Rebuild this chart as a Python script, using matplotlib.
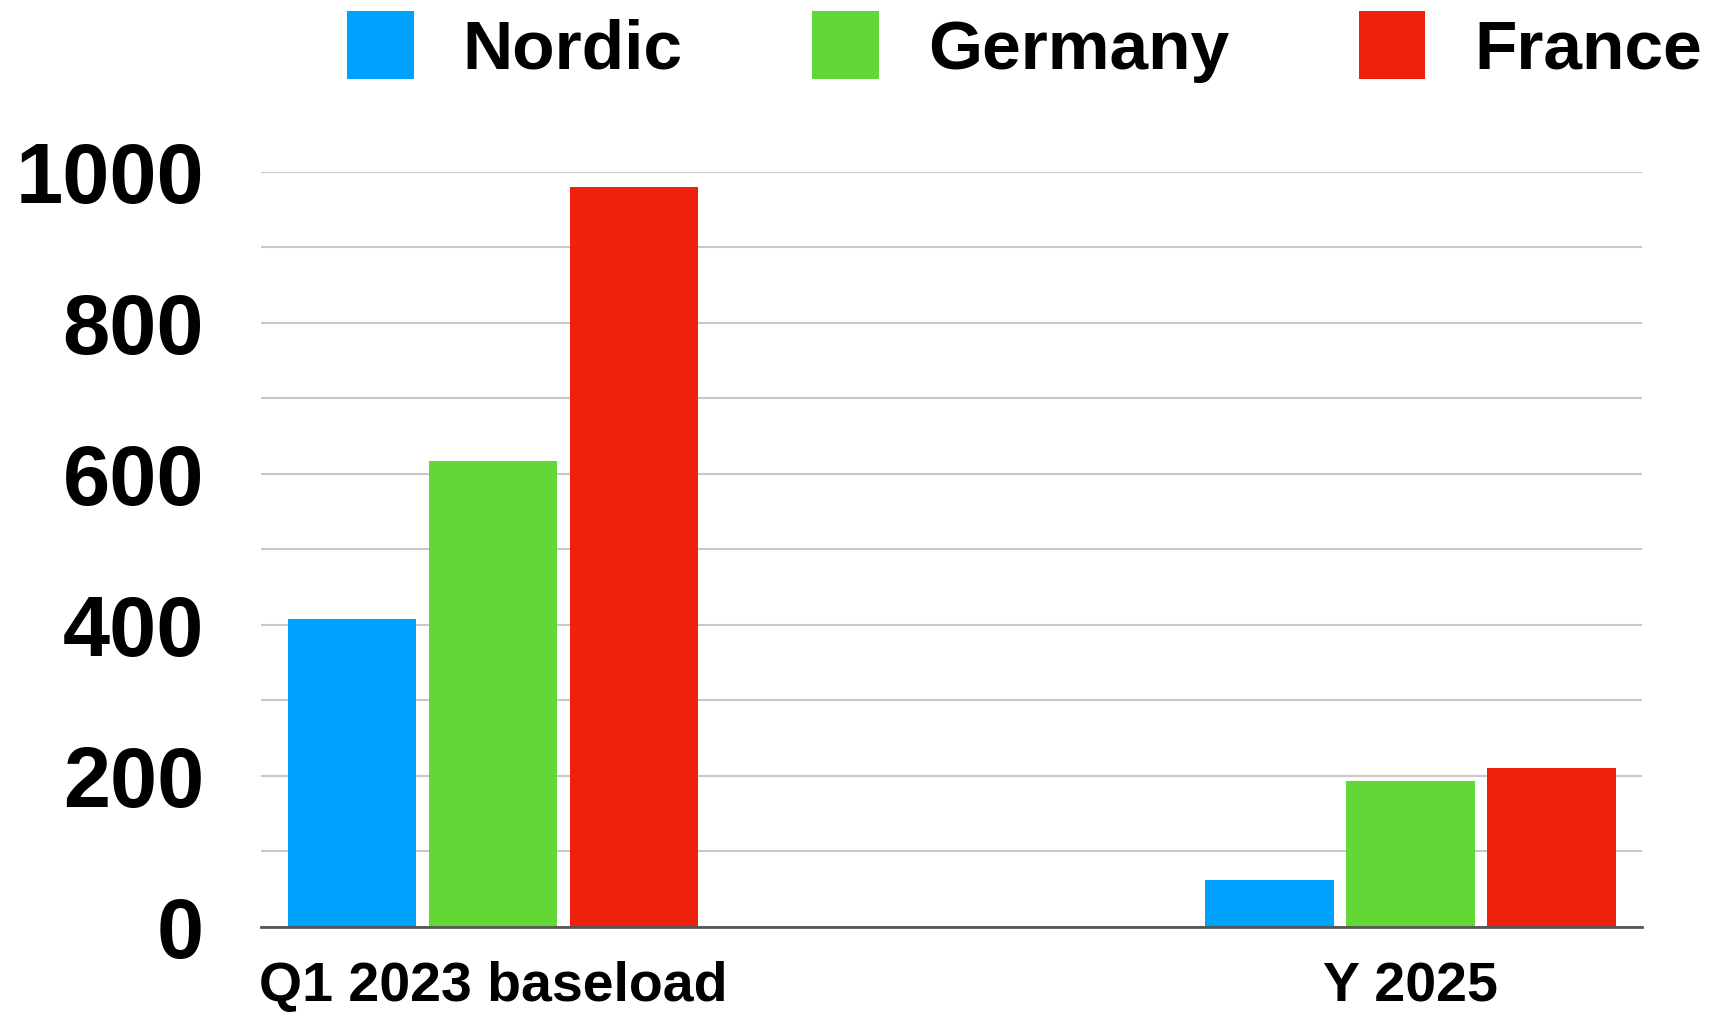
import matplotlib.pyplot as plt
import numpy as np

plt.rcParams['font.family'] = ['Liberation Sans', 'DejaVu Sans']
plt.rcParams['font.weight'] = 'bold'

periods = ['Q1 2023 baseload', 'Y 2025']
regions = ['Nordic', 'Germany', 'France']
nordic = [408, 62]
germany = [617, 193]
france = [980, 210]
colors = ['#00A2FF', '#61D836', '#EE220C']

fig = plt.figure(figsize=(17.09, 10.17), dpi=100)
ax = fig.add_axes([0.1527, 0.0888, 0.808, 0.7424])

x = np.arange(len(periods))
width = 0.14
step = 0.1536
for i, (vals, name) in enumerate(zip([nordic, germany, france], regions)):
    ax.bar(x + (i - 1) * step, vals, width, color=colors[i], label=name, zorder=3)

ax.set_xlim(-0.253, 1.252)
ax.set_ylim(0, 1000)
ax.set_yticks(range(0, 1001, 200))
ax.set_yticks(range(0, 1001, 100), minor=True)
ax.grid(axis='y', which='both', color='#c8c8c8', linewidth=1.5, zorder=0)
ax.tick_params(axis='y', which='both', length=0, pad=41, labelsize=61)
ax.set_xticks(x)
ax.set_xticklabels(periods)
ax.tick_params(axis='x', length=0, pad=25, labelsize=40)

for s in ['top', 'right', 'left']:
    ax.spines[s].set_visible(False)
ax.spines['bottom'].set_color('#555555')
ax.spines['bottom'].set_linewidth(2)
ax.spines['bottom'].set_zorder(4)

fig.legend(loc='center', bbox_to_anchor=(1024.5 / 1709, 1 - 47 / 1017), ncol=3,
           frameon=False, fontsize=50, handlelength=0.96, handleheight=1.13,
           handletextpad=0.7, columnspacing=1.87, borderpad=0, borderaxespad=0)

plt.savefig('out.png', dpi=100)
